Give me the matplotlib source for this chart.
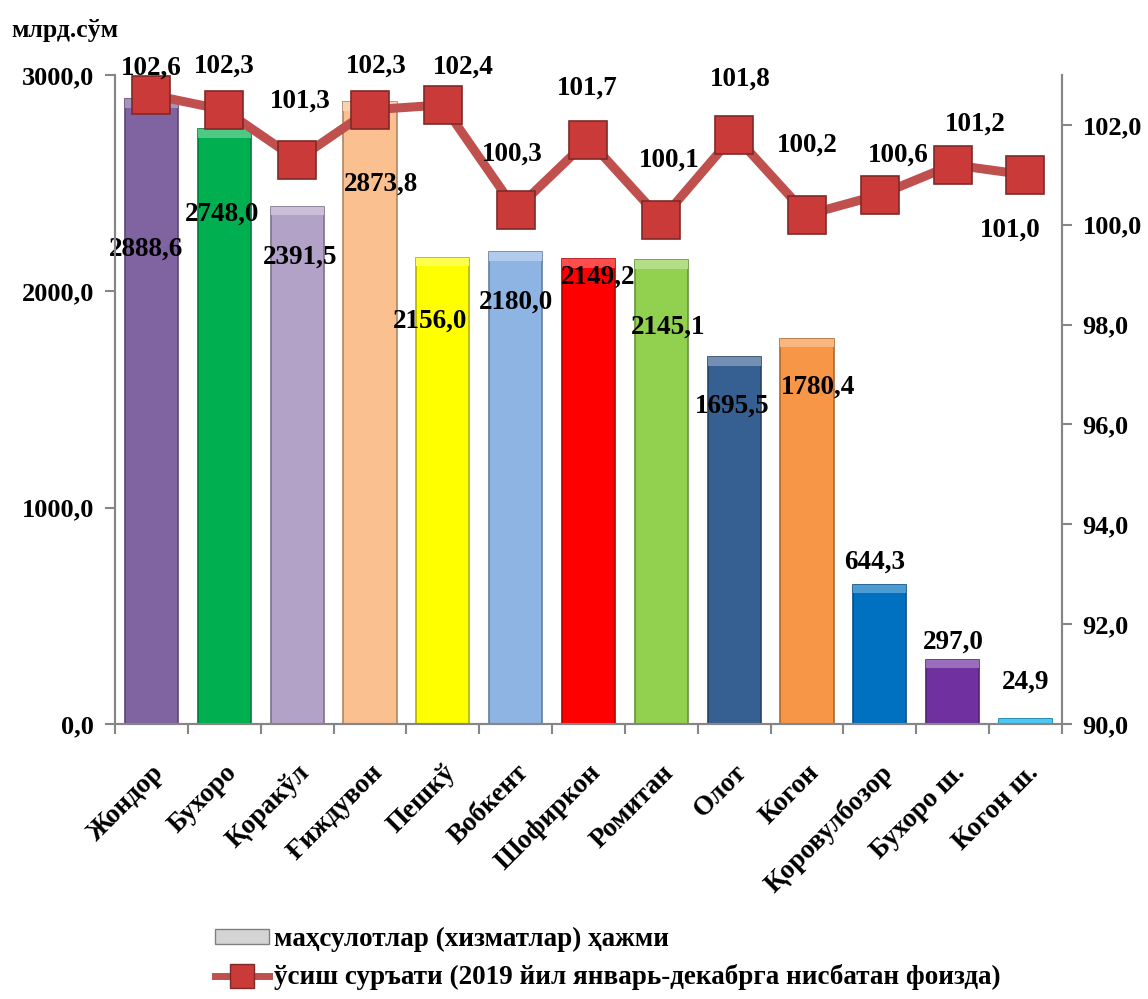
import numpy as np
import matplotlib.pyplot as plt
import matplotlib.colors as mc
from matplotlib.lines import Line2D
from matplotlib.patches import Patch

# Data
districts = ['Жондор', 'Бухоро', 'Қоракўл', 'Ғиждувон', 'Пешкў', 'Вобкент', 'Шофиркон',
             'Ромитан', 'Олот', 'Когон', 'Қоровулбозор', 'Бухоро ш.', 'Когон ш.']
volume = [2888.6, 2748.0, 2391.5, 2873.8, 2156.0, 2180.0, 2149.2,
          2145.1, 1695.5, 1780.4, 644.3, 297.0, 24.9]
growth = [102.6, 102.3, 101.3, 102.3, 102.4, 100.3, 101.7,
          100.1, 101.8, 100.2, 100.6, 101.2, 101.0]
bar_colors = ['#8064A2', '#00B050', '#B3A2C7', '#FAC090', '#FFFF00', '#8EB4E3', '#FF0000',
              '#92D050', '#376092', '#F79646', '#0070C0', '#7030A0', '#00B0F0']

left_ticks = [0, 1000, 2000, 3000]
right_ticks = [90, 92, 94, 96, 98, 100, 102]

# label offsets in pixels (dx, dy), dy positive = up
bar_label_off = [(-5, -150), (-2, -85), (3, -51), (11, -82), (-13, -64), (0, -50), (10, -18),
                 (7, -67), (-2, -49), (11, -48), (-5, 22), (1, 18), (0, 36)]
line_label_off = [(0, 27), (0, 44), (3, 59), (6, 44), (21, 38), (-3, 56), (-1, 52),
                  (8, 60), (6, 56), (0, 70), (18, 40), (23, 41), (-15, -55)]

def fmt(v):
    return f'{v:.1f}'.replace('.', ',')

def shade(c, f):
    r, g, b = mc.to_rgb(c)
    if f < 1:
        return (r * f, g * f, b * f)
    return (r + (1 - r) * (f - 1), g + (1 - g) * (f - 1), b + (1 - b) * (f - 1))

def main():
    plt.rcParams['font.family'] = ['Liberation Serif', 'DejaVu Serif']
    plt.rcParams['font.weight'] = 'bold'

    fig = plt.figure(figsize=(11.48, 9.99), dpi=100)
    ax = fig.add_axes([0.1002, 0.2753, 0.8248, 0.6497])
    ax2 = ax.twinx()

    x = np.arange(len(districts))
    ax.bar(x, volume, width=0.73, color=bar_colors,
           edgecolor=[shade(c, 0.7) for c in bar_colors], linewidth=1.2, zorder=2)
    # light bevel on top of each bar
    ax.bar(x, [min(v, 40) for v in volume], bottom=[v - min(v, 40) for v in volume],
           width=0.73, color=[shade(c, 1.3) for c in bar_colors], linewidth=0, zorder=2.1)

    ax.set_xlim(-0.5, len(districts) - 0.5)
    ax.set_ylim(0, 3000)
    ax2.set_ylim(90, 103)

    ax.set_yticks(left_ticks)
    ax.set_yticklabels([fmt(v) for v in left_ticks], fontsize=19, fontweight='bold')
    ax2.set_yticks(right_ticks)
    ax2.set_yticklabels([fmt(v) for v in right_ticks], fontsize=19, fontweight='bold')

    ax.set_xticks(x)
    ax.set_xticklabels(districts, rotation=45, ha='right', rotation_mode='anchor',
                       fontsize=19.5, fontweight='bold')
    ax.set_xticks(np.arange(-0.5, len(districts), 1), minor=True)
    ax.tick_params(axis='x', which='major', length=0, pad=26)
    ax.tick_params(axis='x', which='minor', length=7, color='#868686', width=1.5)
    ax.tick_params(axis='y', length=7, color='#868686', width=1.5, pad=8)
    ax2.tick_params(axis='y', length=7, color='#868686', width=1.5, pad=8)

    for a in (ax, ax2):
        a.spines['top'].set_visible(False)
        for s in ('left', 'right', 'bottom'):
            a.spines[s].set_color('#868686')
            a.spines[s].set_linewidth(1.5)

    # growth line on the right axis
    ax2.plot(x, growth, color='#C0504D', linewidth=6.5, marker='s', markersize=27,
             markerfacecolor='#C93A38', markeredgecolor='#7F2A28', markeredgewidth=1.2,
             zorder=3)

    # value labels
    for i, v in enumerate(volume):
        dx, dy = bar_label_off[i]
        ax.annotate(fmt(v), (x[i], v), xytext=(dx, dy), textcoords='offset pixels',
                    ha='center', va='center', fontsize=19.5, fontweight='bold', zorder=5)
    for i, v in enumerate(growth):
        dx, dy = line_label_off[i]
        ax2.annotate(fmt(v), (x[i], v), xytext=(dx, dy), textcoords='offset pixels',
                     ha='center', va='center', fontsize=19.5, fontweight='bold', zorder=5)

    fig.text(0.01, 0.969, 'млрд.сўм', fontsize=18.5, fontweight='bold', ha='left', va='center')

    handles = [
        Patch(facecolor='#D4D4D4', edgecolor='#808080', linewidth=1.0),
        Line2D([0], [0], color='#C0504D', linewidth=5, marker='s', markersize=17,
               markerfacecolor='#C93A38', markeredgecolor='#7F2A28'),
    ]
    labels = ['маҳсулотлар (хизматлар) ҳажми',
              'ўсиш суръати (2019 йил январь-декабрга нисбатан фоизда)']
    fig.legend(handles, labels, loc='upper left', bbox_to_anchor=(0.187, 0.072),
               frameon=False, fontsize=19.5, handlelength=2.0, handleheight=0.45,
               handletextpad=0.2, labelspacing=0.45, borderaxespad=0, borderpad=0)

    fig.savefig('out.png', dpi=100)
    plt.close(fig)

if __name__ == '__main__':
    main()
